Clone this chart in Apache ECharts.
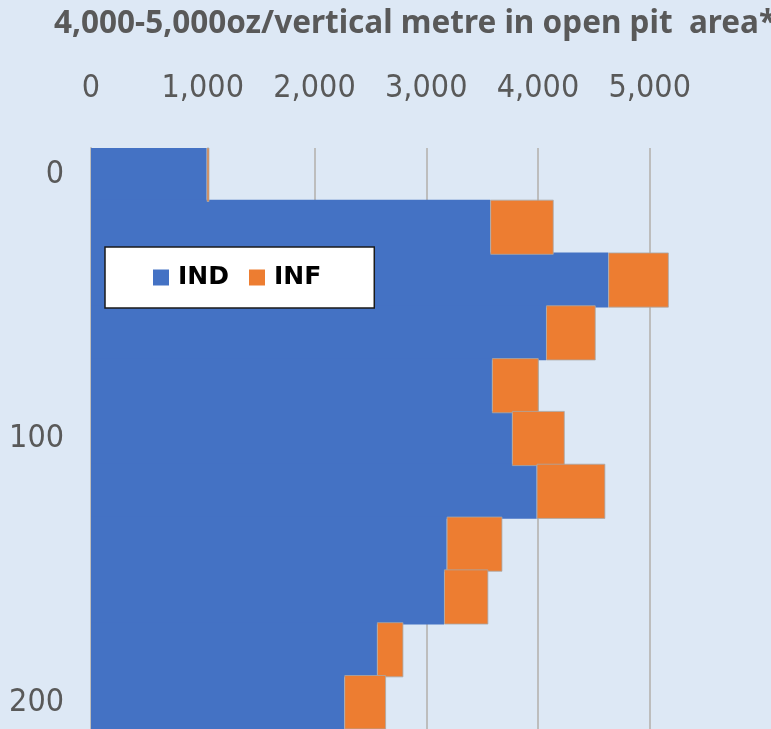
<!DOCTYPE html>
<html>
<head>
<meta charset="utf-8">
<script src="https://cdn.jsdelivr.net/npm/echarts@6/dist/echarts.min.js"></script>
<style>
  html, body { margin: 0; padding: 0; background: #dde8f5; }
  #chart { width: 771px; height: 729px; }
</style>
</head>
<body>
<div id="chart"></div>
<script>
  // depth (m) per 20 m bench, ounces per vertical metre
  var depths = ['0', '20', '40', '60', '80', '100', '120', '140', '160', '180', '200'];
  var indValues = [1035, 3573, 4629, 4072, 3588, 3767, 3988, 3183, 3159, 2559, 2267];
  var infValues = [24, 567, 541, 444, 418, 472, 614, 498, 396, 236, 373];
  var xTicks = [0, 1000, 2000, 3000, 4000, 5000];

  var tickFont = '"Liberation Sans Narrow", "DejaVu Sans Condensed", sans-serif';

  var myChart = echarts.init(document.getElementById('chart'));
  myChart.setOption({
    backgroundColor: '#dde8f5',
    animation: false,
    title: {
      text: '4,000-5,000oz/vertical metre in open pit  area*',
      left: 49,
      top: 3,
      textStyle: {
        fontFamily: '"Noto Sans", sans-serif',
        fontWeight: 'bold',
        fontSize: 31.5,
        color: '#595959'
      }
    },
    legend: {
      data: ['IND', 'INF'],
      left: 105,
      top: 247,
      orient: 'horizontal',
      icon: 'rect',
      itemWidth: 16,
      itemHeight: 16,
      itemGap: 20,
      padding: [18, 53, 18, 48],
      backgroundColor: '#ffffff',
      borderColor: '#1a1a1a',
      borderWidth: 1.5,
      borderRadius: 0,
      itemStyle: { borderWidth: 0 },
      textStyle: {
        fontFamily: '"DejaVu Sans", sans-serif',
        fontWeight: 'bold',
        fontSize: 25,
        color: '#000000',
        padding: [0, 0, 0, 4]
      }
    },
    grid: {
      left: 91,
      top: 148,
      width: 670.5,
      height: 589,
      containLabel: false
    },
    xAxis: {
      type: 'value',
      position: 'top',
      min: 0,
      max: 6000,
      interval: 1000,
      axisLine: { show: false },
      axisTick: { show: false },
      axisLabel: {
        margin: 43,
        fontFamily: tickFont,
        fontSize: 32,
        color: '#595959',
        showMaxLabel: false,
        formatter: function (v) {
          return xTicks.indexOf(v) >= 0 ? v.toLocaleString('en-US') : '';
        }
      },
      splitLine: {
        show: true,
        showMinLine: false,
        showMaxLine: false,
        lineStyle: { color: '#bdbdbd', width: 2 }
      }
    },
    yAxis: {
      type: 'category',
      inverse: true,
      data: depths,
      axisLine: { show: true, lineStyle: { color: '#bdbdbd', width: 2 } },
      axisTick: { show: false },
      axisLabel: {
        interval: 4,
        margin: 27,
        fontFamily: tickFont,
        fontSize: 32,
        color: '#595959'
      },
      splitLine: { show: false }
    },
    series: [{
      name: 'IND',
      type: 'bar',
      stack: 'oz',
      barWidth: 55,
      data: indValues,
      itemStyle: { color: '#4472c4', borderWidth: 0 }
    }, {
      name: 'INF',
      type: 'bar',
      stack: 'oz',
      barWidth: 55,
      data: infValues,
      itemStyle: { color: '#ed7d31', borderColor: '#a8a8a8', borderWidth: 0.8 }
    }]
  });
</script>
</body>
</html>
